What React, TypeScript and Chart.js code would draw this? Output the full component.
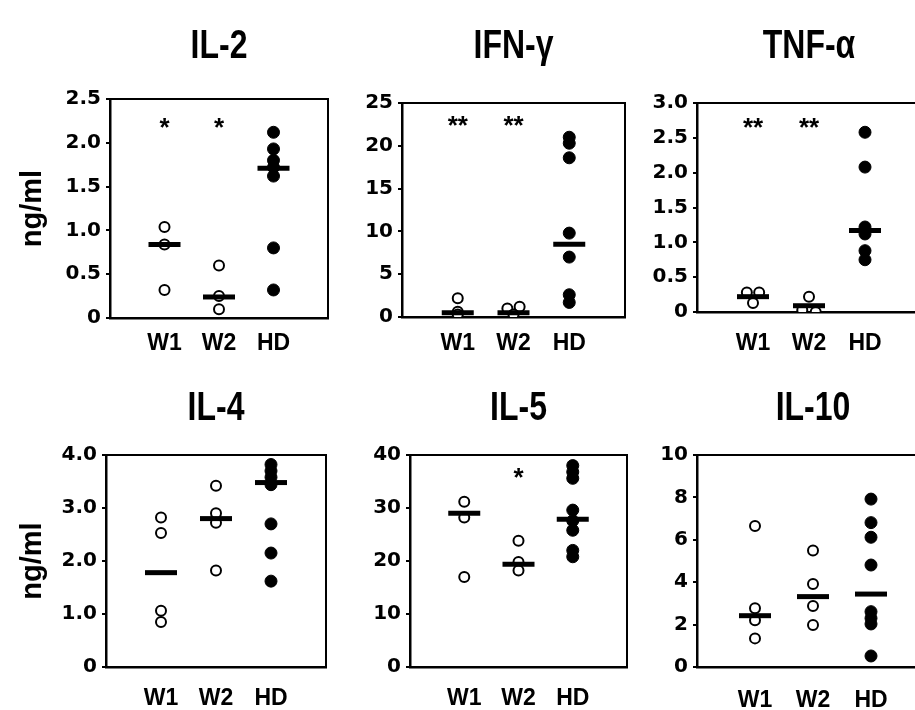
import React, { useEffect, useRef } from 'react';
import { Chart, registerables } from 'chart.js';

Chart.register(...registerables);

const groups = ['W1', 'W2', 'HD'];

// IL-2
const il2W1 = [1.04, 0.84, 0.32];
const il2W2 = [0.6, 0.25, 0.1];
const il2HD = [2.12, 1.93, 1.8, 1.72, 1.62, 0.8, 0.32];
const il2Medians = [0.84, 0.24, 1.71];
const il2Stars = ['*', '*', ''];
const il2StarLevel = 2.22;
const il2Ticks = [0, 0.5, 1.0, 1.5, 2.0, 2.5];

// IFN-gamma
const ifnW1 = [2.2, 0.6, 0.3];
const ifnW2 = [1.0, 1.2, 0.3];
const ifnW2Jitter = [-0.11, 0.11, 0];
const ifnHD = [21.0, 20.3, 18.6, 9.8, 7.0, 2.6, 1.7];
const ifnMedians = [0.5, 0.5, 8.5];
const ifnStars = ['**', '**', ''];
const ifnStarLevel = 22.8;
const ifnTicks = [0, 5, 10, 15, 20, 25];

// TNF-alpha
const tnfW1 = [0.28, 0.28, 0.13];
const tnfW1Jitter = [-0.11, 0.11, 0];
const tnfW2 = [0.22, 0.03, 0.0];
const tnfW2Jitter = [0, -0.12, 0.12];
const tnfHD = [2.58, 2.08, 1.22, 1.12, 0.88, 0.75];
const tnfMedians = [0.22, 0.09, 1.17];
const tnfStars = ['**', '**', ''];
const tnfStarLevel = 2.7;
const tnfTicks = [0, 0.5, 1.0, 1.5, 2.0, 2.5, 3.0];

// IL-4
const il4W1 = [2.82, 2.53, 1.06, 0.85];
const il4W2 = [3.42, 2.9, 2.72, 1.82];
const il4HD = [3.82, 3.7, 3.58, 3.44, 2.7, 2.15, 1.62];
const il4Medians = [1.78, 2.8, 3.48];
const il4Ticks = [0, 1.0, 2.0, 3.0, 4.0];

// IL-5
const il5W1 = [31.2, 28.2, 17.0];
const il5W2 = [23.8, 19.8, 18.2];
const il5HD = [38.0, 36.8, 35.6, 29.6, 27.6, 25.8, 22.0, 20.8];
const il5Medians = [29.0, 19.4, 27.9];
const il5Stars = ['', '*', ''];
const il5StarLevel = 36.5;
const il5Ticks = [0, 10, 20, 30, 40];

// IL-10
const il10W1 = [6.65, 2.77, 2.2, 1.35];
const il10W2 = [5.49, 3.92, 2.88, 1.98];
const il10HD = [7.92, 6.81, 6.12, 4.81, 2.61, 2.3, 2.03, 0.52];
const il10Medians = [2.42, 3.32, 3.44];
const il10Ticks = [0, 2, 4, 6, 8, 10];

type PanelDef = {
  title: string;
  w1: number[];
  w2: number[];
  hd: number[];
  w1Jitter?: number[];
  w2Jitter?: number[];
  medians: number[];
  stars?: string[];
  starLevel?: number;
  ticks: number[];
  decimals: number;
  yTitle: boolean;
  box: { cl: number; ct: number; cw: number; ch: number; l: number; t: number; r: number; b: number; titleY: number; xPad: number };
};

const TITLE_FONT = '"Liberation Sans", Arial, sans-serif';
const TEXT_FONT = '"Liberation Sans", Arial, sans-serif';
const TICK_FONT = '"DejaVu Sans", "Liberation Sans", Arial, sans-serif';

const panels: PanelDef[] = [
  { title: 'IL-2', w1: il2W1, w2: il2W2, hd: il2HD, medians: il2Medians, stars: il2Stars, starLevel: il2StarLevel, ticks: il2Ticks, decimals: 1, yTitle: true,
    box: { cl: 0, ct: 0, cw: 335, ch: 355, l: 110, t: 99, r: 328, b: 318, titleY: 58, xPad: 4 } },
  { title: 'IFN-\u03b3', w1: ifnW1, w2: ifnW2, w2Jitter: ifnW2Jitter, hd: ifnHD, medians: ifnMedians, stars: ifnStars, starLevel: ifnStarLevel, ticks: ifnTicks, decimals: 0, yTitle: false,
    box: { cl: 335, ct: 0, cw: 297, ch: 355, l: 402, t: 103, r: 625, b: 317, titleY: 58, xPad: 5 } },
  { title: 'TNF-\u03b1', w1: tnfW1, w1Jitter: tnfW1Jitter, w2: tnfW2, w2Jitter: tnfW2Jitter, hd: tnfHD, medians: tnfMedians, stars: tnfStars, starLevel: tnfStarLevel, ticks: tnfTicks, decimals: 1, yTitle: false,
    box: { cl: 632, ct: 0, cw: 300, ch: 355, l: 697, t: 103, r: 921, b: 312, titleY: 58, xPad: 10 } },
  { title: 'IL-4', w1: il4W1, w2: il4W2, hd: il4HD, medians: il4Medians, ticks: il4Ticks, decimals: 1, yTitle: true,
    box: { cl: 0, ct: 355, cw: 335, ch: 355, l: 106, t: 455, r: 326, b: 667, titleY: 65, xPad: 10 } },
  { title: 'IL-5', w1: il5W1, w2: il5W2, hd: il5HD, medians: il5Medians, stars: il5Stars, starLevel: il5StarLevel, ticks: il5Ticks, decimals: 0, yTitle: false,
    box: { cl: 335, ct: 355, cw: 297, ch: 355, l: 410, t: 455, r: 627, b: 667, titleY: 65, xPad: 10 } },
  { title: 'IL-10', w1: il10W1, w2: il10W2, hd: il10HD, medians: il10Medians, ticks: il10Ticks, decimals: 0, yTitle: false,
    box: { cl: 632, ct: 355, cw: 310, ch: 355, l: 697, t: 455, r: 929, b: 667, titleY: 65, xPad: 12 } },
];

function pts(vals: number[], pos: number, jitter?: number[]) {
  return vals.map((v, i) => ({ x: pos + (jitter ? jitter[i] : 0), y: v }));
}

function Panel({ p }: { p: PanelDef }) {
  const ref = useRef<HTMLCanvasElement | null>(null);
  useEffect(() => {
    const canvas = ref.current;
    if (!canvas) return;
    const { cl, ct, cw, ch, l, t, r, b, titleY, xPad } = p.box;
    const yMax = p.ticks[p.ticks.length - 1];
    const decor = {
      id: 'decor',
      afterDraw(chart: any) {
        const ctx = chart.ctx;
        const a = chart.chartArea;
        ctx.save();
        ctx.strokeStyle = '#000';
        ctx.lineWidth = 2;
        ctx.beginPath();
        ctx.moveTo(a.left, a.top);
        ctx.lineTo(a.right, a.top);
        ctx.lineTo(a.right, a.bottom);
        ctx.stroke();
        ctx.fillStyle = '#000';
        ctx.save();
        ctx.translate((a.left + a.right) / 2, titleY);
        ctx.scale(0.8, 1);
        ctx.font = `bold 40px ${TITLE_FONT}`;
        ctx.textAlign = 'center';
        ctx.textBaseline = 'alphabetic';
        ctx.fillText(p.title, 0, 0);
        ctx.restore();
        if (p.stars && p.starLevel !== undefined) {
          const xs = chart.scales.x;
          const ys = chart.scales.y;
          ctx.font = `bold 26px ${TEXT_FONT}`;
          ctx.textAlign = 'center';
          ctx.textBaseline = 'middle';
          p.stars.forEach((s, i) => {
            if (!s) return;
            ctx.fillText(s, xs.getPixelForValue(i + 1), ys.getPixelForValue(p.starLevel) + 5);
          });
        }
        ctx.restore();
      },
    };
    const chart = new Chart(canvas, {
      type: 'scatter',
      data: {
        datasets: [
          {
            label: 'median',
            data: p.medians.map((m, i) => ({ x: i + 1, y: m })),
            pointStyle: 'line',
            pointRadius: 16,
            borderWidth: 5,
            borderColor: '#000',
            backgroundColor: '#000',
          },
          {
            label: 'W1',
            data: pts(p.w1, 1, p.w1Jitter),
            pointStyle: 'circle',
            pointRadius: 5,
            borderWidth: 2,
            borderColor: '#000',
            backgroundColor: '#fff',
          },
          {
            label: 'W2',
            data: pts(p.w2, 2, p.w2Jitter),
            pointStyle: 'circle',
            pointRadius: 5,
            borderWidth: 2,
            borderColor: '#000',
            backgroundColor: '#fff',
          },
          {
            label: 'HD',
            data: pts(p.hd, 3),
            pointStyle: 'circle',
            pointRadius: 6,
            borderWidth: 1,
            borderColor: '#000',
            backgroundColor: '#000',
          },
        ],
      },
      options: {
        animation: false,
        responsive: false,
        devicePixelRatio: 1,
        layout: { autoPadding: false, padding: { left: 0, top: t - ct, right: cw - (r - cl), bottom: 0 } },
        plugins: { legend: { display: false }, tooltip: { enabled: false }, title: { display: false } },
        scales: {
          x: {
            type: 'linear',
            min: 0,
            max: 4,
            afterBuildTicks: (s: any) => { s.ticks = [1, 2, 3].map((v) => ({ value: v })); },
            afterFit: (s: any) => { s.height = ct + ch - b; s.paddingLeft = 0; s.paddingRight = 0; },
            grid: { display: false },
            border: { display: true, color: '#000', width: 2.5 },
            ticks: {
              autoSkip: false,
              maxRotation: 0,
              padding: xPad,
              color: '#000',
              font: { family: TEXT_FONT, weight: 'bold', size: 23 },
              callback: (v: any) => groups[Number(v) - 1] ?? '',
            },
          },
          y: {
            type: 'linear',
            min: 0,
            max: yMax,
            afterBuildTicks: (s: any) => { s.ticks = p.ticks.map((v) => ({ value: v })); },
            afterFit: (s: any) => { s.width = l - cl; },
            grid: { display: true, drawOnChartArea: false, drawTicks: true, tickLength: 4, color: '#000', lineWidth: 2 },
            border: { display: true, color: '#000', width: 2.5 },
            title: {
              display: p.yTitle,
              text: 'ng/ml',
              color: '#000',
              font: { family: TEXT_FONT, weight: 'bold', size: 29 },
              padding: { top: 16, bottom: 0 },
            },
            ticks: {
              padding: 5,
              color: '#000',
              font: { family: TICK_FONT, weight: 'bold', size: 20 },
              callback: (v: any) => (Number(v) === 0 ? '0' : Number(v).toFixed(p.decimals)),
            },
          },
        },
      },
      plugins: [decor],
    } as any);
    return () => chart.destroy();
  }, [p]);
  const { cl, ct, cw, ch } = p.box;
  return (
    <canvas
      ref={ref}
      width={cw}
      height={ch}
      style={{ position: 'absolute', left: cl, top: ct, width: cw, height: ch }}
    />
  );
}

export default function App() {
  useEffect(() => {
    document.body.style.margin = '0';
    document.body.style.overflow = 'hidden';
  }, []);
  return (
    <div style={{ position: 'relative', width: 915, height: 710, overflow: 'hidden', background: '#fff' }}>
      {panels.map((p, i) => (
        <Panel key={i} p={p} />
      ))}
    </div>
  );
}
